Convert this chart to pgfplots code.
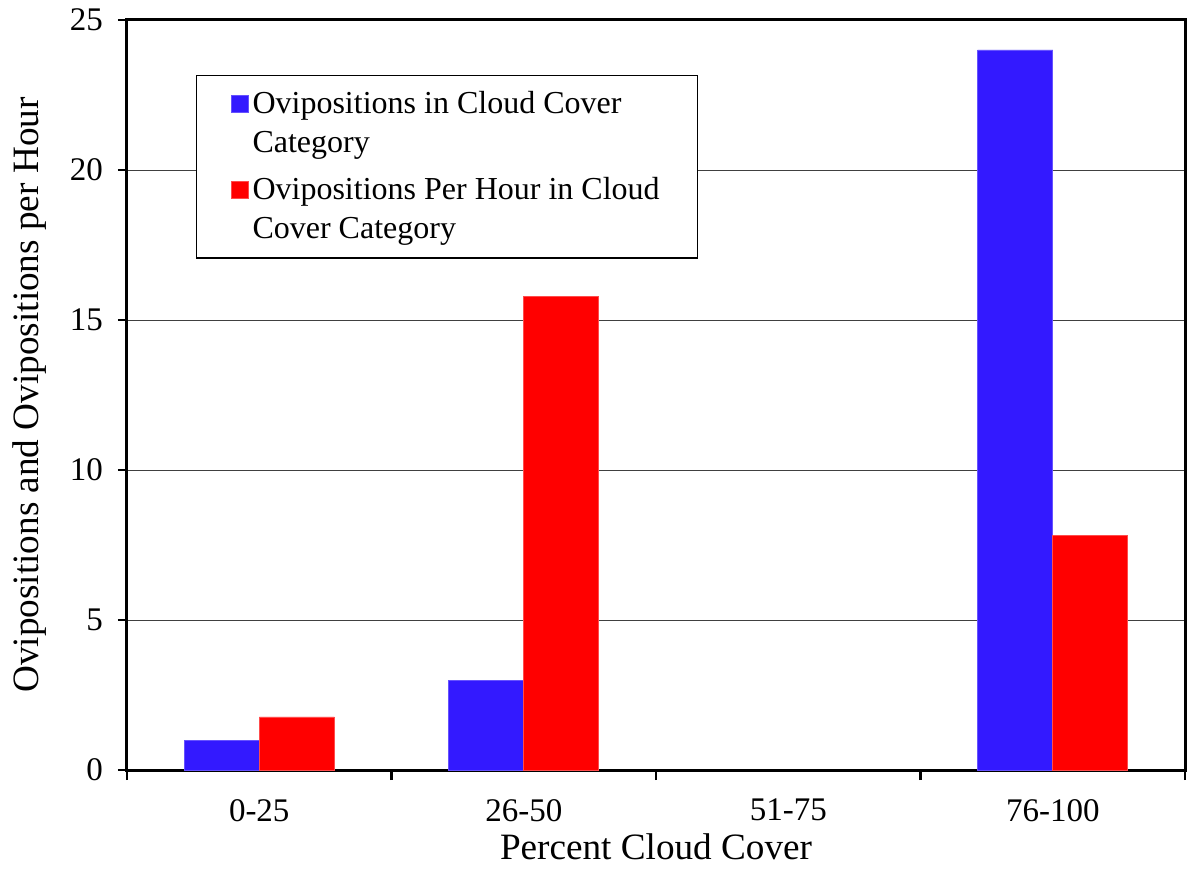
\documentclass[border=0pt]{standalone}
\usepackage{pgfplots}
\pgfplotsset{compat=1.18}
\usepackage{fontspec}
\setmainfont{Liberation Serif}
\usetikzlibrary{calc}
\definecolor{cblue}{RGB}{51,25,255}
\definecolor{cred}{RGB}{255,0,0}
\begin{document}
\begin{tikzpicture}
\begin{axis}[
  scale only axis, width=529pt, height=375pt,
  ymin=0, ymax=25, ytick={0,5,...,25},
  xmin=-0.5, xmax=3.5,
  xtick={0,1,2,3}, xticklabels={0-25,26-50,51-75,76-100},
  major x tick style={draw=none},
  minor xtick={-0.5,0.5,1.5,2.5,3.5},
  tick pos=left,
  tick align=outside,
  major tick length=4.5pt, minor tick length=5pt,
  every tick/.append style={black, line width=1.2pt},
  ybar=0pt, bar width=0.284,
  ymajorgrids, grid style={black!75, line width=0.5pt},
  axis line style={line width=1.5pt},
  /pgf/number format/assume math mode=true,
  tick label style={font=\fontsize{16.5}{19}\selectfont},
  xticklabel style={yshift=-6.5pt},
  yticklabel style={xshift=-4pt},
  label style={font=\fontsize{18.6}{21}\selectfont},
  xlabel={Percent Cloud Cover},
  ylabel={Ovipositions and Ovipositions per Hour},
  xlabel style={at={(axis description cs:0.5,-0.119)}, anchor=base, text depth=0pt, inner sep=0pt},
  ylabel style={at={(axis description cs:-0.0917,0.5)}, anchor=center, rotate=0},
  legend style={at={(0.0652,0.927)}, anchor=north west, draw=black, line width=0.75pt,
    font=\fontsize{16}{19.5}\selectfont, cells={align=left, anchor=west},
    inner xsep=17pt, inner ysep=6pt, row sep=7pt},
  legend cell align=left,
  legend image code/.code={\fill[#1] (0pt,5.5pt) rectangle (8.5pt,14pt);},
]
\addplot[fill=cblue, draw=cblue!75!white, line width=0.4pt] coordinates {(0,1) (1,3) (3,24)};
\addplot[fill=cred, draw=cred!70!white, line width=0.4pt] coordinates {(0,1.77) (1,15.8) (3,7.83)};
\legend{Ovipositions in Cloud Cover\\Category, Ovipositions Per Hour in Cloud\\Cover Category}
\end{axis}
\pgfresetboundingbox
\path[use as bounding box] ($(current axis.south west)+(-63.5pt,-49.5pt)$) rectangle ($(current axis.north east)+(3pt,10pt)$);
\end{tikzpicture}
\end{document}
